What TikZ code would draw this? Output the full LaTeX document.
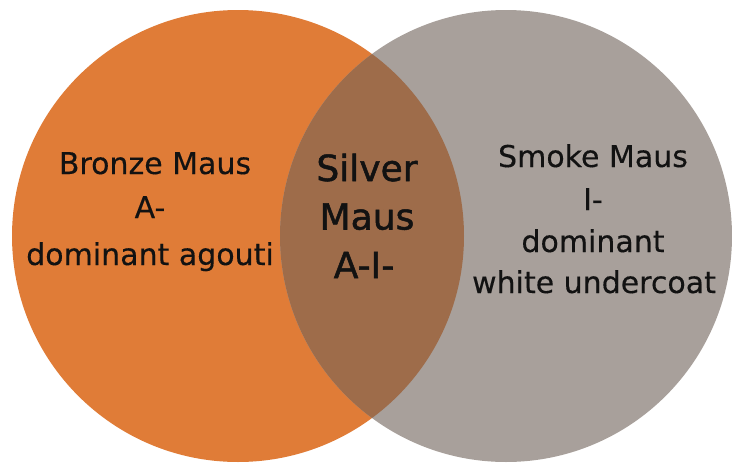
\documentclass[tikz,border=0pt]{standalone}
\usepackage{fontspec}
\setmainfont[FakeBold=0.3]{DejaVu Sans}
\newfontfamily\midfont[FakeBold=1.4]{DejaVu Sans}
\definecolor{orng}{HTML}{E07C37}
\definecolor{grayc}{HTML}{A8A09B}
\definecolor{ovl}{HTML}{9E6C4A}
\definecolor{txt}{HTML}{121212}
\begin{document}
\begin{tikzpicture}[x=1pt,y=-1pt,
  lbl/.style={anchor=base, inner sep=0pt, text=txt, font=\fontsize{30}{36}\selectfont},
  midlbl/.style={anchor=base, inner sep=0pt, text=txt, font=\midfont\fontsize{36}{42}\selectfont}]
\useasboundingbox (0,0) rectangle (732,466);
\fill[white] (0,0) rectangle (732,466);
\fill[orng] (238,236) circle[radius=226pt];
\fill[grayc] (506,236) circle[radius=226pt];
\begin{scope}
  \clip (238,236) circle[radius=226pt];
  \fill[ovl] (506,236) circle[radius=226pt];
\end{scope}
% left
\node[lbl] (l1) at (155,174) {Bronze Maus};
\node[lbl] (l2) at (150,218) {A-};
\node[lbl] (l3) at (150,265) {dominant agouti};
% middle
\node[midlbl] (m1) at (367,181) {Silver};
\node[midlbl] (m2) at (367,229.5) {Maus};
\node[midlbl] (m3) at (364,278) {A-I-};
% right
\node[lbl] (r1) at (593,167) {Smoke Maus};
\node[lbl] (r2) at (593,210) {I-};
\node[lbl] (r3) at (593,252) {dominant};
\node[lbl] (r4) at (594,293) {white undercoat};
\end{tikzpicture}
\end{document}
